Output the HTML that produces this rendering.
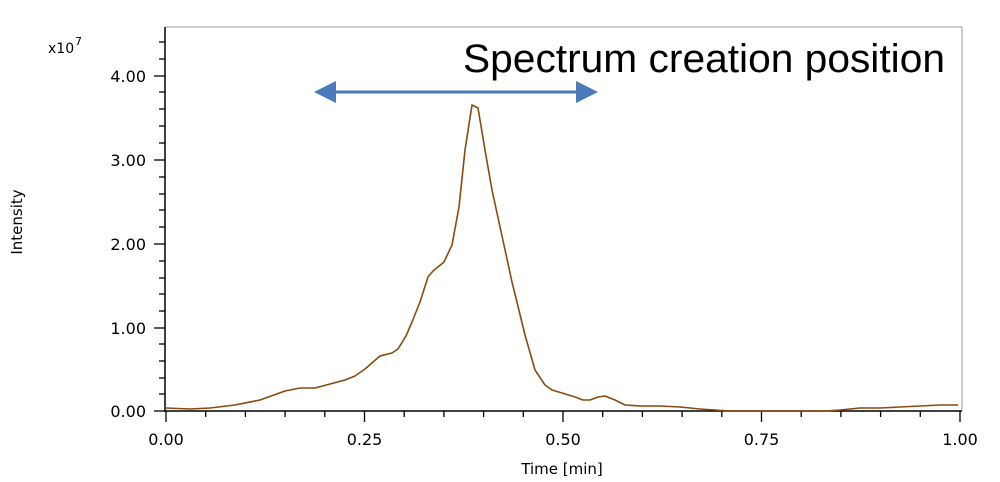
<!DOCTYPE html>
<html><head><meta charset="utf-8"><style>
html,body{margin:0;padding:0;background:#fff;}
svg{display:block;font-family:"DejaVu Sans","Liberation Sans",sans-serif;}
</style></head><body>
<svg width="1000" height="482" viewBox="0 0 1000 482" xmlns="http://www.w3.org/2000/svg">
<rect width="1000" height="482" fill="#fff"/>
<polyline points="165,27 962,27 962,411" fill="none" stroke="#999" stroke-width="1"/>
<line x1="165" y1="27" x2="165" y2="412" stroke="#000" stroke-width="1.5"/>
<line x1="164" y1="411" x2="962" y2="411" stroke="#000" stroke-width="1.5"/>
<g stroke="#000" stroke-width="1.3">
<line x1="154" y1="411" x2="165" y2="411"/><line x1="154" y1="328" x2="165" y2="328"/><line x1="154" y1="244" x2="165" y2="244"/><line x1="154" y1="160" x2="165" y2="160"/><line x1="154" y1="76" x2="165" y2="76"/>
<line x1="159" y1="394" x2="165" y2="394"/><line x1="159" y1="378" x2="165" y2="378"/><line x1="159" y1="361" x2="165" y2="361"/><line x1="159" y1="344" x2="165" y2="344"/>
<line x1="159" y1="311" x2="165" y2="311"/><line x1="159" y1="294" x2="165" y2="294"/><line x1="159" y1="278" x2="165" y2="278"/><line x1="159" y1="261" x2="165" y2="261"/>
<line x1="159" y1="227" x2="165" y2="227"/><line x1="159" y1="210" x2="165" y2="210"/><line x1="159" y1="194" x2="165" y2="194"/><line x1="159" y1="177" x2="165" y2="177"/>
<line x1="159" y1="143" x2="165" y2="143"/><line x1="159" y1="126" x2="165" y2="126"/><line x1="159" y1="109" x2="165" y2="109"/><line x1="159" y1="92" x2="165" y2="92"/>
<line x1="159" y1="59" x2="165" y2="59"/><line x1="159" y1="42" x2="165" y2="42"/>
<line x1="166" y1="411" x2="166" y2="422"/><line x1="364.5" y1="411" x2="364.5" y2="422"/><line x1="563" y1="411" x2="563" y2="422"/><line x1="761.5" y1="411" x2="761.5" y2="422"/><line x1="960" y1="411" x2="960" y2="422"/>
<line x1="205.7" y1="411" x2="205.7" y2="417"/><line x1="245.4" y1="411" x2="245.4" y2="417"/><line x1="285.1" y1="411" x2="285.1" y2="417"/><line x1="324.8" y1="411" x2="324.8" y2="417"/>
<line x1="404.2" y1="411" x2="404.2" y2="417"/><line x1="443.9" y1="411" x2="443.9" y2="417"/><line x1="483.6" y1="411" x2="483.6" y2="417"/><line x1="523.3" y1="411" x2="523.3" y2="417"/>
<line x1="602.7" y1="411" x2="602.7" y2="417"/><line x1="642.4" y1="411" x2="642.4" y2="417"/><line x1="682.1" y1="411" x2="682.1" y2="417"/><line x1="721.8" y1="411" x2="721.8" y2="417"/>
<line x1="801.2" y1="411" x2="801.2" y2="417"/><line x1="840.9" y1="411" x2="840.9" y2="417"/><line x1="880.6" y1="411" x2="880.6" y2="417"/><line x1="920.3" y1="411" x2="920.3" y2="417"/>
</g>
<g font-size="16" fill="#000" text-anchor="end">
<text x="146" y="417">0.00</text><text x="146" y="334">1.00</text><text x="146" y="250">2.00</text><text x="146" y="166">3.00</text><text x="146" y="82">4.00</text>
</g>
<text x="48" y="53" font-size="14">x10</text><text x="75" y="45" font-size="11">7</text>
<g font-size="16" fill="#000" text-anchor="middle">
<text x="166" y="445">0.00</text><text x="364.5" y="445">0.25</text><text x="563" y="445">0.50</text><text x="761.5" y="445">0.75</text><text x="960" y="445">1.00</text>
</g>
<text x="562" y="474" font-size="15" text-anchor="middle">Time [min]</text>
<text transform="translate(22,222) rotate(-90)" font-size="15" text-anchor="middle">Intensity</text>
<polyline fill="none" stroke="#8a4a10" stroke-width="1.6" stroke-linejoin="round" points="166,408 190,409 210,408 235,405 260,400 285,391 300,388 315,388 330,384 345,380 355,376 365,369 373,362 380,356 392,353 398,349 406,336 412,322 420,302 428,277 433,271 444,262 452,245 459,207 465,150 472,105 478,108 485,150 492,190 502,236 512,282 525,335 535,370 545,385 552,390 562,393 575,397 583,400 590,400 598,397 605,396 615,400 625,405 640,406 660,406 680,407 700,409 730,411 800,411 825,411 840,410 860,408 880,408 900,407 920,406 940,405 958,405"/>
<line x1="330" y1="92" x2="582" y2="92" stroke="#4a7ab8" stroke-width="3"/>
<polygon points="314,92 336,81 336,103" fill="#4a7ab8"/>
<polygon points="598,92 576,81 576,103" fill="#4a7ab8"/>
<text x="463" y="72" font-family="Liberation Sans, sans-serif" font-size="40" textLength="482" lengthAdjust="spacingAndGlyphs" fill="#000">Spectrum creation position</text>
</svg>
</body></html>
